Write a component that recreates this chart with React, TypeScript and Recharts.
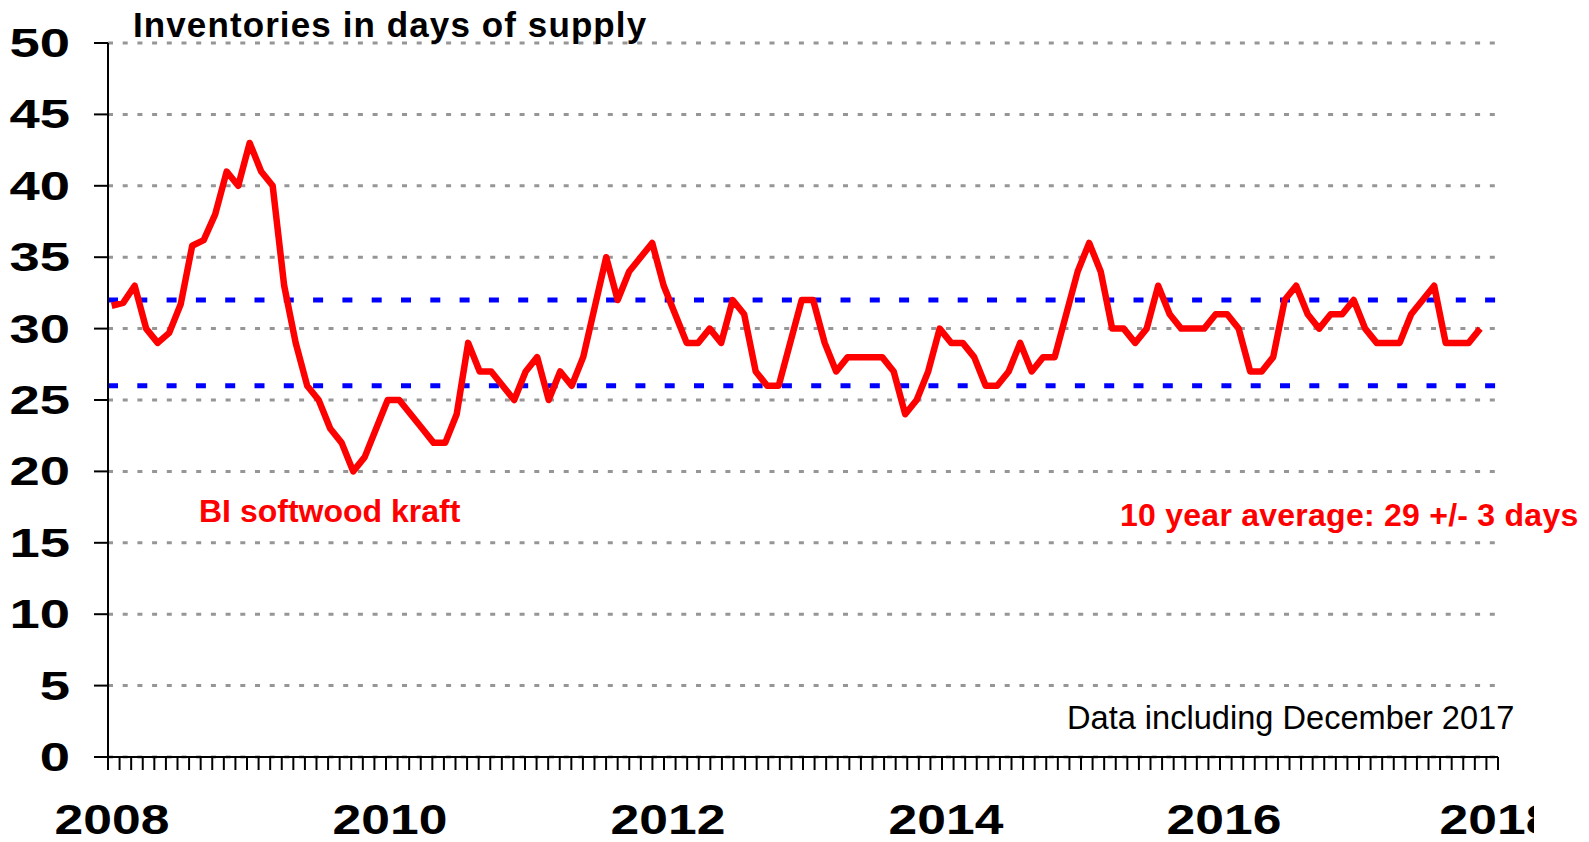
import React from 'react';
import { LineChart, Line, XAxis, YAxis, CartesianGrid, ReferenceLine } from 'recharts';

// BI softwood kraft inventories, days of supply, monthly Jan 2008 - Dec 2017
const DAYS = [
  31.6, 31.8, 33, 30, 29, 29.7, 31.7, 35.8, 36.2, 38, 41, 40,
  43, 41, 40, 33, 29, 26, 25, 23, 22, 20, 21, 23,
  25, 25, 24, 23, 22, 22, 24, 29, 27, 27, 26, 25,
  27, 28, 25, 27, 26, 28, 31.5, 35, 32, 34, 35, 36,
  33, 31, 29, 29, 30, 29, 32, 31, 27, 26, 26, 29,
  32, 32, 29, 27, 28, 28, 28, 28, 27, 24, 25, 27,
  30, 29, 29, 28, 26, 26, 27, 29, 27, 28, 28, 31,
  34, 36, 34, 30, 30, 29, 30, 33, 31, 30, 30, 30,
  31, 31, 30, 27, 27, 28, 32, 33, 31, 30, 31, 31,
  32, 30, 29, 29, 29, 31, 32, 33, 29, 29, 29, 30,
];

const Y_TICKS = [0, 5, 10, 15, 20, 25, 30, 35, 40, 45, 50];
const YEAR_LABELS = ['2008', '2010', '2012', '2014', '2016', '2018'];
const AVG_LOW = 26;
const AVG_HIGH = 32;

const FONT = '"Liberation Sans", Arial, Helvetica, sans-serif';

const data = DAYS.map((v, i) => ({ idx: i, v }));
const monthTicks = Array.from({ length: 121 }, (_, i) => i);

function YTick(props: any) {
  const { y, payload } = props;
  return (
    <text
      transform={`translate(70 ${y + 14}) scale(1.36 1)`}
      textAnchor="end"
      fontFamily={FONT}
      fontWeight="bold"
      fontSize={40}
      fill="#000"
    >
      {payload.value}
    </text>
  );
}

function XTick(props: any) {
  const { x, y, payload } = props;
  const v = payload.value as number;
  if (v % 24 !== 0) return <g />;
  const shift = v < 120 ? 4 : -1;
  const label = (
    <text
      transform={`translate(${x + shift} ${y + 62}) scale(1.2 1)`}
      textAnchor="middle"
      fontFamily={FONT}
      fontWeight="bold"
      fontSize={43}
      fill="#000"
    >
      {YEAR_LABELS[v / 24]}
    </text>
  );
  if (v < 120) return <g>{label}</g>;
  // the last year label is cut off at the chart's right edge, as in the original
  return (
    <g>
      <defs>
        <clipPath id="xclip-last">
          <rect x={0} y={0} width={1534} height={842} />
        </clipPath>
      </defs>
      <g clipPath="url(#xclip-last)">{label}</g>
    </g>
  );
}

export default function App() {
  return (
    <div style={{ position: 'absolute', left: 0, top: 0, background: '#fff' }}>
      <LineChart
        width={1589}
        height={842}
        data={data}
        margin={{ top: 43, right: 91, bottom: 5, left: 0 }}
      >
        <CartesianGrid
          xAxisId="m"
          vertical={false}
          stroke="#969696"
          strokeWidth={3}
          strokeDasharray="5 9.7"
        />
        <XAxis
          xAxisId="m"
          dataKey="idx"
          type="number"
          domain={[0, 120]}
          allowDataOverflow
          ticks={monthTicks}
          interval={0}
          height={80}
          tickSize={13}
          axisLine={{ stroke: '#000', strokeWidth: 2 }}
          tickLine={{ stroke: '#000', strokeWidth: 2 }}
          tick={<XTick />}
        />
        <XAxis
          xAxisId="pts"
          dataKey="idx"
          type="number"
          domain={[-0.32, 120.55]}
          allowDataOverflow
          hide
        />
        <YAxis
          type="number"
          domain={[0, 50]}
          ticks={Y_TICKS}
          interval={0}
          width={108}
          tickSize={14}
          axisLine={{ stroke: '#000', strokeWidth: 2 }}
          tickLine={{ stroke: '#000', strokeWidth: 2 }}
          tick={<YTick />}
        />
        <ReferenceLine
          xAxisId="m"
          y={AVG_HIGH}
          stroke="#0000ff"
          strokeWidth={5}
          strokeDasharray="10 19.3"
        />
        <ReferenceLine
          xAxisId="m"
          y={AVG_LOW}
          stroke="#0000ff"
          strokeWidth={5}
          strokeDasharray="10 19.3"
        />
        <Line
          xAxisId="pts"
          dataKey="v"
          stroke="#ff0000"
          strokeWidth={6.5}
          strokeLinejoin="round"
          dot={false}
          activeDot={false}
          isAnimationActive={false}
        />
        <text x={133} y={37} fontFamily={FONT} fontWeight="bold" fontSize={35} letterSpacing={1.1} fill="#000">
          Inventories in days of supply
        </text>
        <text x={199} y={522} fontFamily={FONT} fontWeight="bold" fontSize={32} fill="#ff0000">
          BI softwood kraft
        </text>
        <text x={1120} y={526} fontFamily={FONT} fontWeight="bold" fontSize={32} letterSpacing={0.25} fill="#ff0000">
          10 year average: 29 +/- 3 days
        </text>
        <text x={1067} y={729} fontFamily={FONT} fontSize={32.6} fill="#000">
          Data including December 2017
        </text>
      </LineChart>
    </div>
  );
}
